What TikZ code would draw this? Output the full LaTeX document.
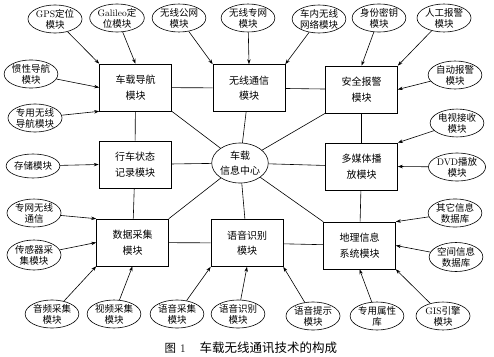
\documentclass[tikz,border=0pt]{standalone}
\usepackage{fontspec}
\newfontfamily\cjk{Noto Sans CJK SC}
\usetikzlibrary{shapes.geometric,arrows.meta}
\tikzset{
  ell/.style={draw, ellipse, inner sep=0pt, minimum width=48pt, minimum height=28pt,
    align=center, font=\cjk\fontsize{9.5}{11}\selectfont, line width=0.6pt},
  box/.style={draw, rectangle, inner sep=0pt, minimum width=72pt, minimum height=47pt,
    align=center, font=\cjk\fontsize{10}{15.5}\selectfont, line width=0.6pt},
  link/.style={line width=0.6pt},
  arr/.style={line width=0.6pt, -{Stealth[length=5pt,width=3.5pt]}},
}
\begin{document}
\begin{tikzpicture}[x=1pt,y=-1pt]
\useasboundingbox (0,0) rectangle (494,356);
% boxes
\node[box] (nav) at (135.5,87.5) {车载导航\\模块};
\node[box] (comm) at (249,88) {无线通信\\模块};
\node[box] (sec) at (361.5,89.5) {安全报警\\模块};
\node[box] (rec) at (135,164.5) {行车状态\\记录模块};
\node[ell, minimum width=54pt, minimum height=40pt, font=\cjk\fontsize{10}{15}\selectfont] (ctr) at (240,163) {车载\\信息中心};
\node[box] (mm) at (361.5,166.5) {多媒体播\\放模块};
\node[box] (data) at (132.5,242.5) {数据采集\\模块};
\node[box] (voice) at (247,243) {语音识别\\模块};
\node[box] (gis) at (359.5,245.5) {地理信息\\系统模块};
% top ellipses
\node[ell] (gps) at (55,19) {{\rmfamily GPS}定位\\模块};
\node[ell] (gal) at (117,18) {{\rmfamily Galileo}定\\位模块};
\node[ell] (pub) at (179,18) {无线公网\\模块};
\node[ell, minimum width=52pt] (priv) at (248,18) {无线专网\\模块};
\node[ell, minimum width=50pt] (car) at (319,19) {车内无线\\网络模块};
\node[ell, minimum width=46pt] (key) at (379,18) {身份密钥\\模块};
\node[ell, minimum width=54pt] (man) at (444,18) {人工报警\\模块};
% left ellipses
\node[ell] (ins) at (31,74) {惯性导航\\模块};
\node[ell, minimum width=54pt] (dnav) at (35,118) {专用无线\\导航模块};
\node[ell, minimum width=53pt, minimum height=24pt] (sto) at (33,166) {存储模块};
\node[ell, minimum width=54pt, minimum height=24pt] (pnet) at (34,213) {专网无线\\通信};
\node[ell, minimum width=54pt, minimum height=30pt] (sens) at (34,255) {传感器采\\集模块};
% right ellipses
\node[ell] (auto) at (455,75) {自动报警\\模块};
\node[ell, minimum height=24pt] (tv) at (457,123) {电视接收\\模块};
\node[ell, minimum width=49pt, minimum height=25pt] (dvd) at (457,167) {{\rmfamily DVD}播放\\模块};
\node[ell, minimum height=24pt] (oth) at (455,213) {其它信息\\数据库};
\node[ell, minimum height=29pt] (spa) at (456,257) {空间信息\\数据库};
% bottom ellipses
\node[ell] (aud) at (52,314) {音频采集\\模块};
\node[ell] (vid) at (114,314) {视频采集\\模块};
\node[ell] (vcol) at (177,314) {语音采集\\模块};
\node[ell] (vrec) at (238,314) {语音识别\\模块};
\node[ell, minimum width=54pt, minimum height=26pt] (vtip) at (313,316) {语音提示\\模块};
\node[ell, minimum width=50pt, minimum height=26pt] (attr) at (377,316) {专用属性\\库};
\node[ell, minimum width=54pt, minimum height=26pt] (eng) at (443,316) {{\rmfamily GIS}引擎\\模块};
% caption
\node[font=\cjk\fontsize{11.5}{12}\selectfont, anchor=west] (fig) at (161,348) {图\hspace{4pt}{\rmfamily 1}};
\node[font=\cjk\fontsize{12.5}{13}\selectfont, anchor=west] (title) at (196,348) {车载无线通讯技术的构成};
% plain links
\draw[link] (nav) -- (comm);
\draw[link] (comm) -- (sec);
\draw[link] (nav) -- (rec);
\draw[link] (comm) -- (ctr);
\draw[link] (sec) -- (mm);
\draw[link] (nav.south east) -- (ctr);
\draw[link] (sec.south west) -- (ctr);
\draw[link] (rec) -- (ctr);
\draw[link] (ctr) -- (mm);
\draw[link] (data.north east) -- (ctr);
\draw[link] (ctr) -- (voice);
\draw[link] (gis.north west) -- (ctr);
\draw[link] (rec) -- (data);
\draw[link] (mm) -- (gis);
\draw[link] (data) -- (voice);
\draw[link] (voice) -- (gis);
% arrows
\draw[arr] (gps) -- (nav.north west);
\draw[arr] (gal) -- (nav.north);
\draw[arr] (ins) -- (nav.west);
\draw[arr] (dnav) -- (nav.south west);
\draw[arr] (pub) -- (comm.north west);
\draw[arr] (priv) -- (comm.north);
\draw[arr] (car) -- (comm.north east);
\draw[arr] (key) -- (sec.north);
\draw[arr] (man) -- (sec.north east);
\draw[arr] (auto) -- (sec.east);
\draw[arr] (sto) -- (rec.west);
\draw[arr] (tv) -- (mm.north east);
\draw[arr] (dvd) -- (mm.east);
\draw[arr] (pnet) -- (data.north west);
\draw[arr] (sens) -- (data.west);
\draw[arr] (aud) -- (data.south west);
\draw[arr] (vid) -- (data.south);
\draw[arr] (vcol) -- (voice.south west);
\draw[arr] (vrec) -- (voice.south);
\draw[arr] (vtip) -- (voice.south east);
\draw[arr] (oth) -- (gis.north east);
\draw[arr] (spa) -- (gis.east);
\draw[arr] (attr) -- (gis.south);
\draw[arr] (eng) -- (gis.south east);
\end{tikzpicture}
\end{document}
